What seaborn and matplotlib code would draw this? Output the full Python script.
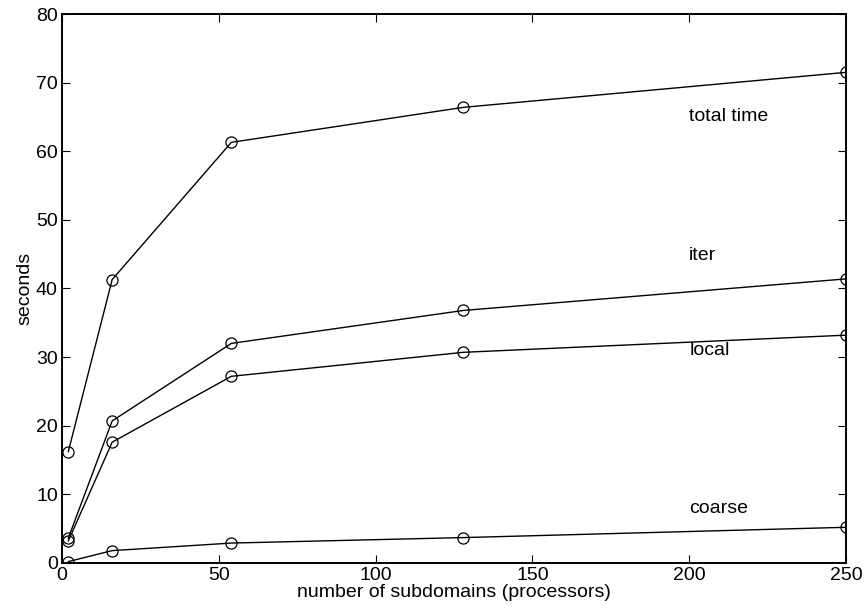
import pandas as pd
import matplotlib
matplotlib.use("Agg")
import matplotlib.pyplot as plt
import seaborn as sns

# data
subdomains = [2, 16, 54, 128, 250]
total_time = [16.2, 41.3, 61.3, 66.4, 71.5]
iter_time = [3.6, 20.7, 32.0, 36.8, 41.4]
local_time = [3.2, 17.6, 27.2, 30.7, 33.2]
coarse_time = [0.2, 1.8, 2.9, 3.7, 5.2]

series = {
    "total time": total_time,
    "iter": iter_time,
    "local": local_time,
    "coarse": coarse_time,
}
label_pos = {
    "total time": (200, 65.0),
    "iter": (200, 44.8),
    "local": (200, 31.0),
    "coarse": (200, 7.9),
}

sns.set_style("ticks")
plt.rcParams["font.family"] = ["Liberation Sans", "DejaVu Sans"]
plt.rcParams["text.color"] = "black"
plt.rcParams["axes.labelcolor"] = "black"
plt.rcParams["xtick.color"] = "black"
plt.rcParams["ytick.color"] = "black"

fig = plt.figure(figsize=(8.67, 6.15), dpi=100)
ax = fig.add_axes([0.0715, 0.0846, 0.9043, 0.8926])

for name, vals in series.items():
    df = pd.DataFrame({"x": subdomains, "y": vals})
    sns.lineplot(data=df, x="x", y="y", ax=ax, color="black", linewidth=1.0,
                 marker="o", markersize=8, markerfacecolor="none",
                 markeredgecolor="black", markeredgewidth=0.9)
    tx, ty = label_pos[name]
    ax.text(tx, ty, name, fontsize=14, va="center", ha="left")

ax.set_xlim(0, 250)
ax.set_ylim(0, 80)
ax.set_xticks([0, 50, 100, 150, 200, 250])
ax.set_yticks(range(0, 81, 10))
ax.set_xlabel("number of subdomains (processors)", fontsize=14, labelpad=0)
ax.set_ylabel("seconds", fontsize=14, labelpad=2)
ax.tick_params(direction="in", top=True, right=True, labelsize=14, length=6, width=0.8, pad=3)
for s in ax.spines.values():
    s.set_visible(True)
    s.set_linewidth(1.4)
    s.set_color("black")

fig.savefig("out.png", dpi=100)
